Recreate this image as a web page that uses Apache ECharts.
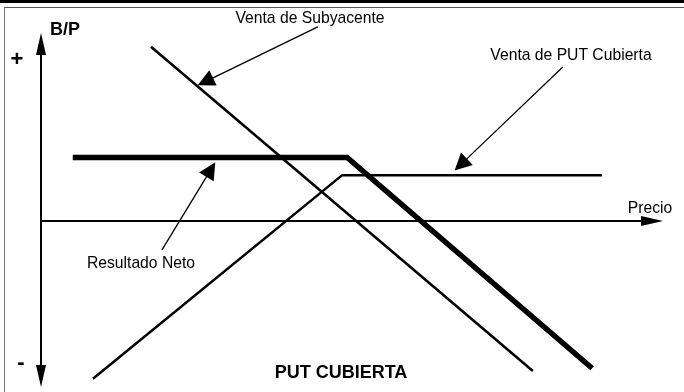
<!DOCTYPE html>
<html>
<head>
<meta charset="utf-8">
<script src="https://cdn.jsdelivr.net/npm/echarts@6/dist/echarts.min.js"></script>
<style>html,body{margin:0;padding:0;background:#fff}#c{width:684px;height:392px}</style>
</head>
<body>
<div id="c"></div>
<script>
// Payoff lines (price on x, profit/loss on y)
const subyacenteX = [18.0, 80.5];
const subyacenteY = [31.5, -27.1];
const putX = [8.5, 49.3, 91.8];
const putY = [-28.5, 8.3, 8.3];
const netoX = [5.2, 50.1, 90.2];
const netoY = [11.5, 11.5, -26.6];
// Annotation pointers: [fromX, fromY, toX, toY]
const ptrSubyacente = [45.3, 35.1, 26.9, 25.2];
const ptrPut = [85.4, 27.85, 68.7, 10.2];
const ptrNeto = [19.8, -5.2, 27.8, 9.3];
// Texts
const labelSubyacente = 'Venta de Subyacente';
const labelPut = 'Venta de PUT Cubierta';
const labelNeto = 'Resultado Neto';
const axisXName = 'Precio';
const axisYName = 'B/P';
const chartTitle = 'PUT CUBIERTA';

const zip = (xs, ys) => xs.map((x, i) => [x, ys[i]]);
const FONT = '"Liberation Sans", Arial, Helvetica, sans-serif';

const chart = echarts.init(document.getElementById('c'));
const ptr = (p) => ({coords: [[p[0], p[1]], [p[2], p[3]]]});

chart.setOption({
  animation: false,
  grid: {left: 41, right: 32, top: 44, bottom: 16, containLabel: false},
  xAxis: {
    type: 'value', min: 0, max: 100,
    axisLine: {onZero: true, lineStyle: {color: '#000', width: 2}, symbol: ['none', 'triangle'], symbolSize: [10, 22]},
    axisTick: {show: false}, axisLabel: {show: false}, splitLine: {show: false}
  },
  yAxis: {
    type: 'value', min: -28, max: 32,
    axisLine: {show: true, onZero: true, lineStyle: {color: '#000', width: 2}, symbol: ['triangle', 'triangle'], symbolSize: [10, 22]},
    axisTick: {show: false}, axisLabel: {show: false}, splitLine: {show: false}
  },
  series: [
    {type: 'line', name: labelSubyacente, data: zip(subyacenteX, subyacenteY), symbol: 'none', clip: false,
     lineStyle: {color: '#000', width: 2.5}},
    {type: 'line', name: labelPut, data: zip(putX, putY), symbol: 'none', clip: false,
     lineStyle: {color: '#000', width: 2.5}},
    {type: 'line', name: labelNeto, data: zip(netoX, netoY), symbol: 'none', clip: false,
     lineStyle: {color: '#000', width: 5.5, join: 'miter'}},
    {type: 'lines', coordinateSystem: 'cartesian2d', silent: true, clip: false,
     symbol: ['none', 'triangle'], symbolSize: [9, 17],
     lineStyle: {color: '#000', width: 1.3, opacity: 1, curveness: 0},
     data: [ptr(ptrSubyacente), ptr(ptrPut), ptr(ptrNeto)]}
  ],
  graphic: [
    {type: 'rect', shape: {x: 0, y: 0, width: 684, height: 3}, style: {fill: '#000'}},
    {type: 'line', shape: {x1: 4, y1: 7.5, x2: 684, y2: 7.5}, style: {stroke: '#555', lineWidth: 1}},
    {type: 'line', shape: {x1: 4.5, y1: 7, x2: 4.5, y2: 392}, style: {stroke: '#777', lineWidth: 1}},
    {type: 'text', x: 310, y: 19, style: {text: labelSubyacente, font: '15.7px ' + FONT, fill: '#000', textAlign: 'center', textVerticalAlign: 'middle'}},
    {type: 'text', x: 571, y: 56, style: {text: labelPut, font: '15.7px ' + FONT, fill: '#000', textAlign: 'center', textVerticalAlign: 'middle'}},
    {type: 'text', x: 141, y: 264, style: {text: labelNeto, font: '15.7px ' + FONT, fill: '#000', textAlign: 'center', textVerticalAlign: 'middle'}},
    {type: 'text', x: 650, y: 209, style: {text: axisXName, font: '15.7px ' + FONT, fill: '#000', textAlign: 'center', textVerticalAlign: 'middle'}},
    {type: 'text', x: 341, y: 373, style: {text: chartTitle, font: 'bold 18px ' + FONT, fill: '#000', textAlign: 'center', textVerticalAlign: 'middle'}},
    {type: 'text', x: 50, y: 30, style: {text: axisYName, font: 'bold 18px ' + FONT, fill: '#000', textAlign: 'left', textVerticalAlign: 'middle'}},
    {type: 'text', x: 17, y: 60, style: {text: '+', font: 'bold 22px ' + FONT, fill: '#000', textAlign: 'center', textVerticalAlign: 'middle'}},
    {type: 'text', x: 21, y: 363, style: {text: '-', font: 'bold 22px ' + FONT, fill: '#000', textAlign: 'center', textVerticalAlign: 'middle'}}
  ]
});
</script>
</body>
</html>
